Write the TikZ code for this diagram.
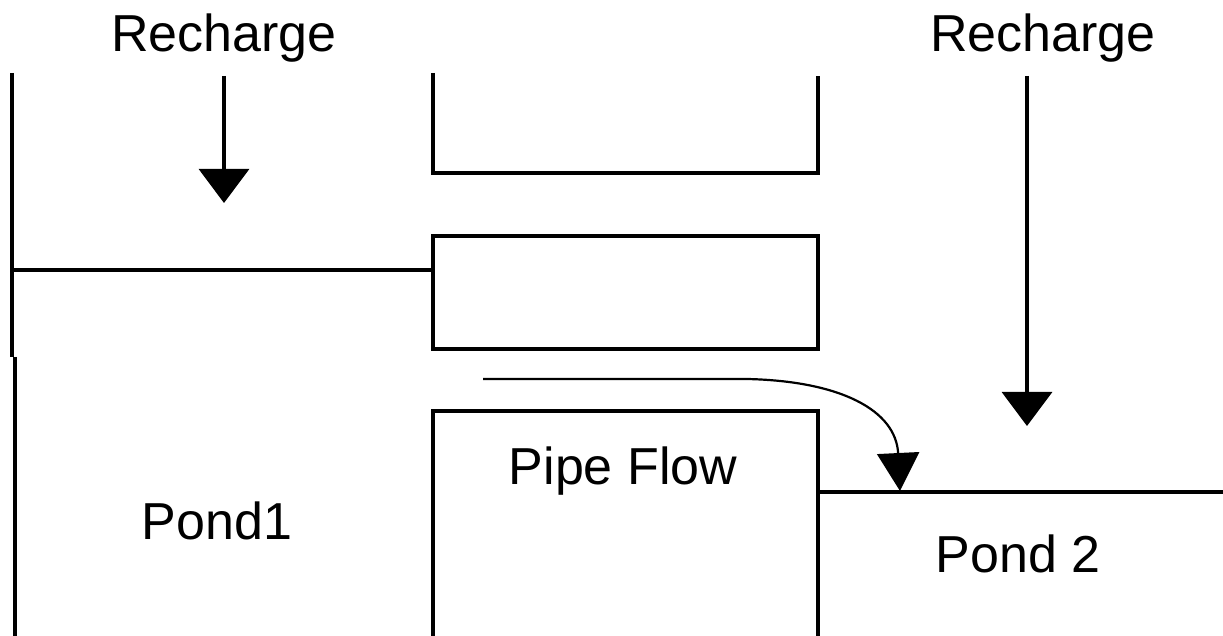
\documentclass[tikz,border=0pt]{standalone}
\usepackage{fontspec}
\setmainfont{Liberation Sans}
\usetikzlibrary{positioning, arrows.meta}

\begin{document}
\begin{tikzpicture}[
  x=0.5pt, y=-0.5pt,
  wall/.style={line width=1.8pt},
  label/.style={anchor=base, inner sep=0pt, font=\fontsize{26}{30}\selectfont},
  arrow/.style={-{Triangle[width=25pt, length=17pt]}, line width=1.6pt},
  flow/.style={-{Triangle[width=21pt, length=19pt]}, line width=1.1pt}
]
\useasboundingbox (0,0) rectangle (1223,636);

% Nodes
\node[label] (rech1) at (224,52) {Recharge};
\node[label] (rech2) at (1043,52) {Recharge};
\node[label] (pipe) at (623,485) {Pipe Flow};
\node[label] (pond1) at (217,540) {Pond1};
\node[label] (pond2) at (1018,573) {Pond 2};

\coordinate (r1top) at (224,76);
\coordinate (r1end) at (224,203);
\coordinate (r2top) at (1027,76);
\coordinate (r2end) at (1027,426);
\coordinate (fstart) at (483,379);
\coordinate (fbend) at (747,379);
\coordinate (fend) at (900,491);

% Walls
\draw[wall] (12,73) -- (12,357);
\draw[wall] (15,357) -- (15,636);
\draw[wall] (12,270) -- (433,270);
\draw[wall] (433,73) -- (433,173) -- (818,173) -- (818,76);
\draw[wall] (433,236) rectangle (818,349);
\draw[wall] (433,636) -- (433,411) -- (818,411) -- (818,636);
\draw[wall] (818,492) -- (1223,492);

% Lines
\draw[arrow] (r1top) -- (r1end);
\draw[arrow] (r2top) -- (r2end);
\draw[flow] (fstart) -- (fbend) .. controls (840,381) and (896,410) .. (fend);

\end{tikzpicture}
\end{document}
